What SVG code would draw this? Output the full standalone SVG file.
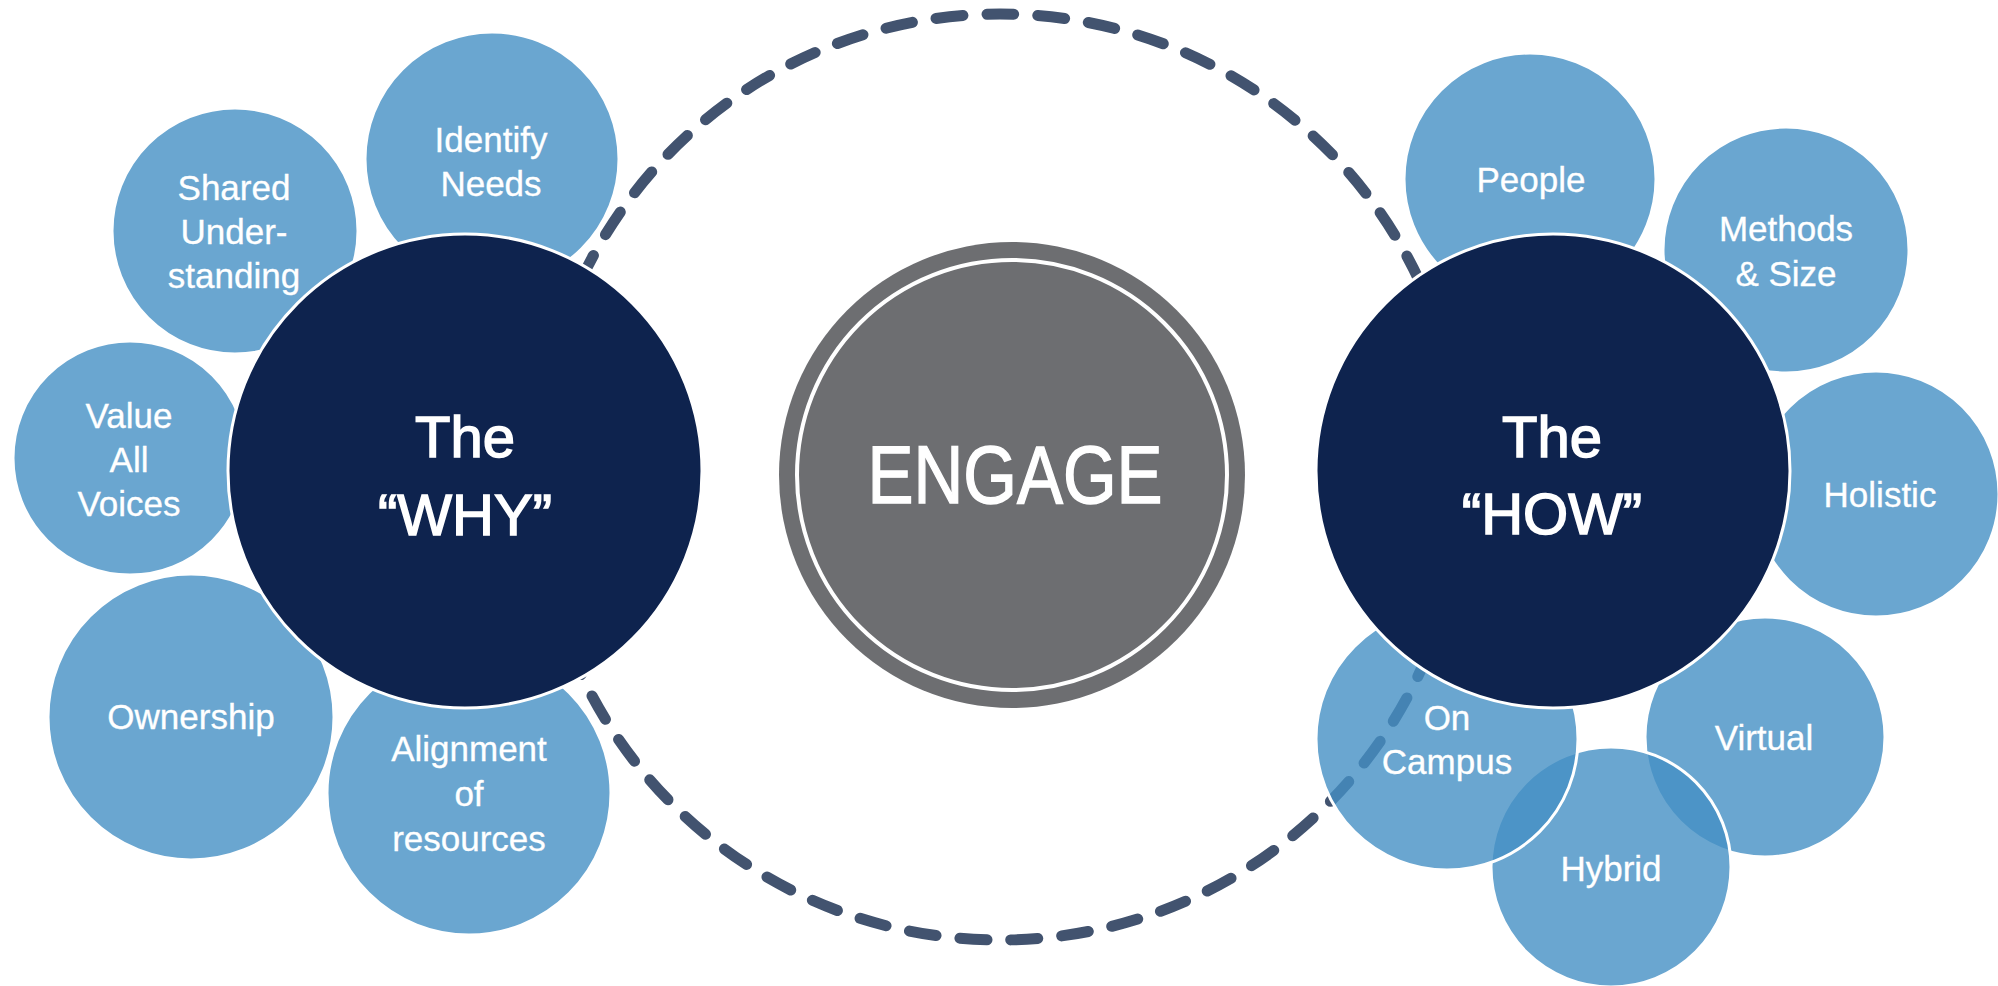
<svg xmlns="http://www.w3.org/2000/svg" width="1998" height="986" viewBox="0 0 1998 986">
<style>
text{font-family:"Liberation Sans",Arial,sans-serif;fill:#ffffff;stroke:#ffffff;text-anchor:middle}
.sat{fill:#4590c4;fill-opacity:0.8;stroke:#ffffff;stroke-width:3}
.core{fill:#0e234e;stroke:#ffffff;stroke-width:3}
.s{font-size:35px;stroke-width:0.3}
.b{font-size:58px;stroke-width:1.5}
.e{font-size:81px;stroke-width:1.4}
.dash{fill:none;stroke:#42536f;stroke-width:11;stroke-linecap:round;stroke-dasharray:27 24;stroke-dashoffset:24.7}
</style>
<rect width="1998" height="986" fill="#ffffff"/>
<g id="connectors">
<circle class="dash" cx="1000" cy="477" r="463"/>
</g>
<g id="identify-needs"><circle class="sat" cx="492" cy="159" r="127"/><text class="s" x="491" y="152">Identify</text><text class="s" x="491" y="196">Needs</text></g>
<g id="shared-understanding"><circle class="sat" cx="235" cy="231" r="123"/><text class="s" x="234" y="200">Shared</text><text class="s" x="234" y="244">Under-</text><text class="s" x="234" y="288">standing</text></g>
<g id="value-all-voices"><circle class="sat" cx="130" cy="458" r="117"/><text class="s" x="129" y="428">Value</text><text class="s" x="129" y="472">All</text><text class="s" x="129" y="516">Voices</text></g>
<g id="ownership"><circle class="sat" cx="191" cy="717" r="143"/><text class="s" x="191" y="729">Ownership</text></g>
<g id="alignment"><circle class="sat" cx="469" cy="793" r="142"/><text class="s" x="469" y="761">Alignment</text><text class="s" x="469" y="806">of</text><text class="s" x="469" y="851">resources</text></g>
<g id="why"><circle class="core" cx="465" cy="471" r="237"/><text class="b" x="465" y="457">The</text><text class="b" x="465" y="535">“WHY”</text></g>
<g id="engage"><circle cx="1012" cy="475" r="233" fill="#6d6e71"/><circle cx="1012" cy="475" r="215" fill="none" stroke="#ffffff" stroke-width="4"/><text class="e" x="1015" y="503" textLength="295" lengthAdjust="spacingAndGlyphs">ENGAGE</text></g>
<g id="people"><circle class="sat" cx="1530" cy="179" r="126"/><text class="s" x="1531" y="192">People</text></g>
<g id="methods-size"><circle class="sat" cx="1786" cy="250" r="123"/><text class="s" x="1786" y="241">Methods</text><text class="s" x="1786" y="286">&amp; Size</text></g>
<g id="holistic"><circle class="sat" cx="1876" cy="494" r="123"/><text class="s" x="1880" y="507">Holistic</text></g>
<g id="virtual"><circle class="sat" cx="1765" cy="737" r="120"/><text class="s" x="1764" y="750">Virtual</text></g>
<g id="hybrid"><circle class="sat" cx="1611" cy="867" r="120"/><text class="s" x="1611" y="881">Hybrid</text></g>
<g id="on-campus"><circle class="sat" cx="1447" cy="739" r="131"/><text class="s" x="1447" y="730">On</text><text class="s" x="1447" y="774">Campus</text></g>
<g id="how"><circle class="core" cx="1553" cy="471" r="237"/><text class="b" x="1552" y="457">The</text><text class="b" x="1552" y="534">“HOW”</text></g>
</svg>
